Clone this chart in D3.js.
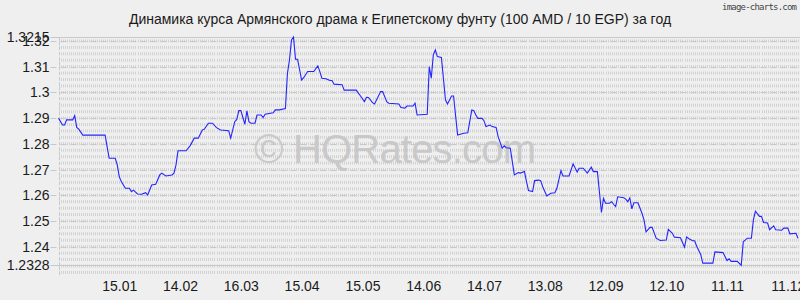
<!DOCTYPE html>
<html>
<head>
<meta charset="utf-8">
<script src="https://cdn.jsdelivr.net/npm/d3@7"></script>
<style>
  body { margin: 0; background: #efefef; }
  svg { display: block; font-family: "Liberation Sans", Arial, sans-serif; }
</style>
</head>
<body>
<svg id="chart" width="800" height="300"></svg>
<script>
// chart data
const title = "Динамика курса Армянского драма к Египетскому фунту (100 AMD / 10 EGP) за год";
const startDay = "2024-12-16";
const endDay = "2025-12-17";

// days counted from startDay
const dayOffsets = [
  0, 2, 3, 4, 7, 8, 9, 10, 12, 23, 25, 28, 29, 30, 31, 33, 35, 36, 37, 39,
  41, 43, 44, 46, 48, 50, 51, 53, 56, 57, 58, 59, 63, 65, 67, 69, 71, 72, 74, 76,
  78, 80, 84, 85, 87, 88, 89, 90, 92, 93, 94, 95, 97, 98, 100, 101, 102, 106, 107, 109,
  112, 113, 114, 115, 116, 117, 118, 120, 121, 123, 126, 128, 129, 130, 132, 134, 135, 136, 140, 141,
  147, 148, 149, 151, 152, 153, 155, 156, 159, 160, 162, 163, 168, 169, 171, 172, 175, 176, 177, 182,
  183, 184, 185, 186, 187, 189, 191, 192, 194, 195, 197, 200, 202, 204, 205, 206, 207, 209, 210, 211,
  213, 214, 216, 217, 219, 220, 221, 223, 224, 225, 227, 228, 230, 231, 232, 234, 235, 237, 238, 239,
  241, 243, 245, 246, 248, 249, 252, 254, 256, 257, 259, 261, 263, 264, 266, 268, 269, 270, 272, 273,
  274, 275, 276, 279, 280, 281, 282, 283, 284, 286, 288, 289, 290, 292, 293, 295, 297, 300, 301, 303,
  304, 307, 309, 310, 311, 313, 314, 315, 317, 318, 323, 324, 328, 330, 331, 332, 335, 337, 338, 340,
  342, 343, 344, 346, 347, 348, 350, 351, 353, 354, 357, 358, 360, 361, 364, 365
];

const rates = [
  1.2900, 1.2873, 1.2873, 1.2893, 1.2893, 1.2910, 1.2864, 1.2857, 1.2834, 1.2834,
  1.2744, 1.2744, 1.2718, 1.2672, 1.2653, 1.2627, 1.2627, 1.2614, 1.2620, 1.2605,
  1.2604, 1.2610, 1.2601, 1.2640, 1.2643, 1.2679, 1.2686, 1.2675, 1.2679, 1.2686,
  1.2718, 1.2773, 1.2773, 1.2793, 1.2822, 1.2822, 1.2854, 1.2857, 1.2880, 1.2880,
  1.2863, 1.2854, 1.2851, 1.2822, 1.2886, 1.2895, 1.2929, 1.2929, 1.2876, 1.2928,
  1.2886, 1.2880, 1.2880, 1.2912, 1.2912, 1.2902, 1.2915, 1.2921, 1.2932, 1.2932,
  1.2937, 1.3074, 1.3126, 1.3204, 1.3215, 1.3129, 1.3129, 1.3048, 1.3057, 1.3081,
  1.3081, 1.3103, 1.3081, 1.3055, 1.3053, 1.3046, 1.3046, 1.3032, 1.3030, 1.3009,
  1.3009, 1.2997, 1.2987, 1.2964, 1.2981, 1.2980, 1.2960, 1.2955, 1.3003, 1.3003,
  1.2964, 1.2958, 1.2955, 1.2941, 1.2939, 1.2947, 1.2947, 1.2958, 1.2912, 1.2915,
  1.3100, 1.3055, 1.3146, 1.3165, 1.3139, 1.3136, 1.2971, 1.2955, 1.2986, 1.2986,
  1.2834, 1.2841, 1.2843, 1.2932, 1.2929, 1.2912, 1.2899, 1.2899, 1.2890, 1.2867,
  1.2873, 1.2867, 1.2864, 1.2828, 1.2783, 1.2792, 1.2785, 1.2783, 1.2731, 1.2679,
  1.2688, 1.2686, 1.2692, 1.2653, 1.2618, 1.2614, 1.2657, 1.2659, 1.2657, 1.2633,
  1.2597, 1.2608, 1.2610, 1.2627, 1.2696, 1.2675, 1.2675, 1.2722, 1.2690, 1.2705,
  1.2705, 1.2686, 1.2709, 1.2692, 1.2692, 1.2533, 1.2588, 1.2569, 1.2569, 1.2575,
  1.2565, 1.2556, 1.2594, 1.2590, 1.2585, 1.2575, 1.2590, 1.2547, 1.2571, 1.2571,
  1.2530, 1.2504, 1.2458, 1.2475, 1.2475, 1.2433, 1.2424, 1.2426, 1.2467, 1.2452,
  1.2437, 1.2435, 1.2398, 1.2438, 1.2432, 1.2423, 1.2423, 1.2402, 1.2370, 1.2336,
  1.2336, 1.2380, 1.2377, 1.2346, 1.2353, 1.2343, 1.2343, 1.2328, 1.2419, 1.2433,
  1.2433, 1.2504, 1.2538, 1.2518, 1.2518, 1.2494, 1.2492, 1.2466, 1.2481, 1.2466,
  1.2464, 1.2472, 1.2472, 1.2450, 1.2452, 1.2433
];

const xTickDates = [
  "2025-01-15", "2025-02-14", "2025-03-16", "2025-04-15", "2025-05-15", "2025-06-14",
  "2025-07-14", "2025-08-13", "2025-09-12", "2025-10-12", "2025-11-11", "2025-12-11"
];
const yTicks = [1.2328, 1.24, 1.25, 1.26, 1.27, 1.28, 1.29, 1.30, 1.31, 1.32, 1.3215];

// layout
const margin = {top: 37, right: 0, bottom: 35, left: 58.5};
const width = 800, height = 300;
const yTop = 37.1, yBottom = 265.2, gridBottom = 277;

const parseDay = d3.timeParse("%Y-%m-%d");
const start = parseDay(startDay);
const end = parseDay(endDay);

const svg = d3.select("#chart");

const x = d3.scaleTime()
    .domain([start, end])
    .range([margin.left, width - margin.right]);
const y = d3.scaleLinear()
    .domain([1.2328, 1.3215])
    .range([yBottom, yTop]);

svg.append("defs").append("clipPath")
    .attr("id", "plot-clip")
    .append("rect")
    .attr("x", margin.left)
    .attr("y", yTop)
    .attr("width", width - margin.left)
    .attr("height", gridBottom - yTop);

// dotted texture: one dashed vertical line per day
const grid = svg.append("g").attr("clip-path", "url(#plot-clip)");
const step = y(1.2425) - y(1.245); // 0.0025 spacing
const gridTop = y(1.325) - 1.5;
grid.append("g")
    .selectAll("line")
    .data(d3.timeDay.range(start, end))
    .enter()
    .append("line")
    .attr("x1", d => Math.round(x(d)) + 0.5)
    .attr("x2", d => Math.round(x(d)) + 0.5)
    .attr("y1", gridTop)
    .attr("y2", gridBottom)
    .attr("stroke", "#d2d2d2")
    .attr("stroke-width", 1)
    .attr("stroke-dasharray", "3 " + (step - 3));

// watermark
svg.append("text")
    .attr("x", 395)
    .attr("y", 163)
    .attr("text-anchor", "middle")
    .attr("font-size", 40)
    .attr("textLength", 282)
    .attr("fill", "#c4c4c4")
    .attr("opacity", 0.85)
    .text("© HQRates.com");

// horizontal lines
svg.append("g")
    .selectAll("line")
    .data(yTicks)
    .enter()
    .append("line")
    .attr("x1", margin.left - 8)
    .attr("x2", width)
    .attr("y1", d => Math.round(y(d)) + 0.5)
    .attr("y2", d => Math.round(y(d)) + 0.5)
    .attr("stroke", "#c8c8c8")
    .attr("stroke-dasharray", d => (d === 1.2328 || d === 1.3215) ? null : "6 4");

// left border
svg.append("line")
    .attr("x1", Math.round(margin.left) + 0.5)
    .attr("x2", Math.round(margin.left) + 0.5)
    .attr("y1", yTop)
    .attr("y2", gridBottom)
    .attr("stroke", "#c8c8c8")
    .attr("stroke-dasharray", "3 2");

// rate line
const points = dayOffsets.map((d, i) => ({date: d3.timeDay.offset(start, d), rate: rates[i]}));
svg.append("path")
    .datum(points)
    .attr("fill", "none")
    .attr("stroke", "#2424ff")
    .attr("stroke-width", 1.1)
    .attr("d", d3.line().x(d => x(d.date)).y(d => y(d.rate)));

// axes
const yAxis = svg.append("g")
    .attr("transform", "translate(" + (margin.left - 8) + ",0)")
    .call(d3.axisLeft(y).tickValues(yTicks).tickSize(0).tickPadding(1)
        .tickFormat(d => String(+d.toFixed(4))));
yAxis.select(".domain").remove();
yAxis.selectAll("text")
    .attr("font-family", "Liberation Sans, Arial, sans-serif")
    .attr("font-size", 14)
    .attr("fill", "#1a1a1a");

const xAxis = svg.append("g")
    .attr("transform", "translate(0," + gridBottom + ")")
    .call(d3.axisBottom(x).tickValues(xTickDates.map(parseDay)).tickSize(0).tickPadding(4)
        .tickFormat(d3.timeFormat("%d.%m")));
xAxis.select(".domain").remove();
xAxis.selectAll("text")
    .attr("font-family", "Liberation Sans, Arial, sans-serif")
    .attr("font-size", 14)
    .attr("fill", "#1a1a1a");

// title and credit
svg.append("text")
    .attr("x", 400)
    .attr("y", 24)
    .attr("text-anchor", "middle")
    .attr("font-size", 14)
    .attr("fill", "#1a1a1a")
    .text(title);

svg.append("text")
    .attr("x", 797)
    .attr("y", 10)
    .attr("text-anchor", "end")
    .attr("font-family", "DejaVu Sans Mono, monospace")
    .attr("font-size", 9)
    .attr("textLength", 75)
    .attr("fill", "#444")
    .text("image-charts.com");
</script>
</body>
</html>
